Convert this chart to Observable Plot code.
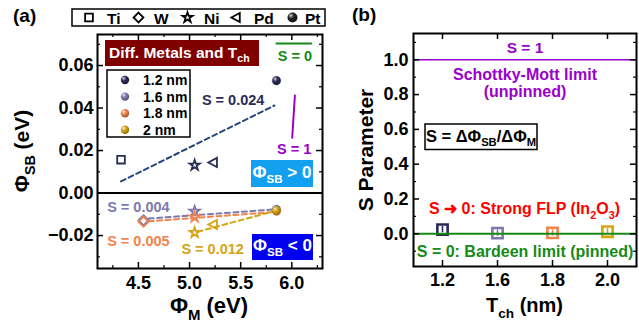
<!DOCTYPE html>
<html><head><meta charset="utf-8">
<script src="https://cdn.jsdelivr.net/npm/d3@7"></script>
<script src="https://cdn.jsdelivr.net/npm/@observablehq/plot@0.6"></script>
<style>
html,body{margin:0;padding:0;background:#fff;}
#wrap{position:relative;width:639px;height:324px;overflow:hidden;}
#wrap > svg{position:absolute;top:0;}
</style></head><body><div id="wrap"></div>
<script>
// ---------------- data ----------------
const metals = ["Ti", "W", "Ni", "Pd", "Pt"];
const workFunction = [4.33, 4.55, 5.05, 5.23, 5.85];          // Φ_M (eV)
const thickness = ["1.2 nm", "1.6 nm", "1.8 nm", "2 nm"];
const thicknessTicks = ["1.2", "1.6", "1.8", "2.0"];
const seriesColors = ["#2a2b57", "#7d79ad", "#f2844b", "#d5a414"];
const lineColors = ["#22497a", "#7d79ad", "#f2844b", "#d5a414"];
const phiSB_1p2 = [0.0157, null, 0.0131, 0.0144, 0.0529];
const phiSB_1p6 = [null, -0.0128, -0.0086, null, -0.0077];
const phiSB_1p8 = [null, -0.0135, -0.0113, null, -0.0085];
const phiSB_2p0 = [null, null, -0.0186, -0.0148, -0.0083];
const fitX_1p2 = [4.33, 5.83], fitY_1p2 = [0.0055, 0.0412];
const fitX_1p6 = [4.60, 5.83], fitY_1p6 = [-0.0120, -0.0077];
const fitX_1p8 = [4.60, 5.83], fitY_1p8 = [-0.0133, -0.0089];
const fitX_2p0 = [5.08, 5.83], fitY_2p0 = [-0.0182, -0.0085];
const sParameter = [0.024, 0.004, 0.005, 0.012];
const sLabels = ["S = 0.024", "S = 0.004", "S = 0.005", "S = 0.012"];
const refS0X = [5.85, 6.19], refS0Y = [0.0704, 0.0704];   // "S = 0" key line
const refS1X = [6.03, 6.004], refS1Y = [0.0459, 0.0260];  // "S = 1" key line
const xTicksA = [4.5, 5.0, 5.5, 6.0], xMinorA = [4.25, 4.75, 5.25, 5.75, 6.25];
const yTicksA = [-0.02, 0, 0.02, 0.04, 0.06], yMinorA = [-0.03, -0.01, 0.01, 0.03, 0.05, 0.07];
const yTicksB = [0, 0.2, 0.4, 0.6, 0.8, 1.0], yMinorB = [-0.1, 0.1, 0.3, 0.5, 0.7, 0.9, 1.1];

// ---------------- helpers ----------------
const FONT = '"Liberation Sans", Arial, Helvetica, sans-serif';
const PURPLE = "#9a00cc", GREEN = "#168a16", RED = "#ff0000";
const H = 324;
const triLeft = {draw(ctx, size) {
  const r = Math.sqrt(size / Math.PI);
  ctx.moveTo(-r * 1.05, 0); ctx.lineTo(r * 0.85, -r); ctx.lineTo(r * 0.85, r); ctx.closePath();
}};
const metalSymbol = {Ti: "square", W: "diamond2", Ni: "star", Pd: triLeft};
const metalR = {Ti: 4.3, W: 4.6, Ni: 3.2, Pd: 4.6};

function rich(svg, x, y, parts, o = {}) {
  const size = o.size || 16;
  const t = d3.select(svg).append("text")
    .attr("font-family", FONT).attr("font-weight", "bold").attr("font-size", size)
    .attr("fill", o.fill || "black").attr("text-anchor", o.anchor || "start")
    .attr("style", "white-space:pre");
  if (o.rotate) t.attr("transform", `translate(${x},${y}) rotate(${o.rotate})`);
  else t.attr("x", x).attr("y", y);
  let shift = 0;
  for (const p of parts) {
    const sub = Array.isArray(p);
    const txt = sub ? p[0] : p;
    const target = sub ? size * 0.3 : 0;
    const ts = t.append("tspan").text(txt).attr("dy", target - shift);
    if (sub) ts.attr("font-size", size * 0.68);
    shift = target;
  }
  return t;
}
function rect(svg, x0, y0, x1, y1, fill, stroke, sw) {
  return d3.select(svg).append("rect").attr("x", x0).attr("y", y0)
    .attr("width", x1 - x0).attr("height", y1 - y0)
    .attr("fill", fill).attr("stroke", stroke || "none").attr("stroke-width", sw || 0);
}
function addGradients(svg) {
  const defs = d3.select(svg).insert("defs", ":first-child");
  const list = seriesColors.map((c, i) => [`sph${i}`, c]).concat([["sphK", "#202020"]]);
  for (const [id, c] of list) {
    const g = defs.append("radialGradient").attr("id", id)
      .attr("cx", "40%").attr("cy", "38%").attr("r", "65%").attr("fx", "32%").attr("fy", "28%");
    g.append("stop").attr("offset", "0%").attr("stop-color", d3.interpolateRgb(c, "white")(0.8));
    g.append("stop").attr("offset", "45%").attr("stop-color", c);
    g.append("stop").attr("offset", "100%").attr("stop-color", d3.color(c).darker(1.3).formatHex());
  }
}

// ---------------- panel (a) ----------------
const phiSB = [phiSB_1p2, phiSB_1p6, phiSB_1p8, phiSB_2p0];
const fits = [[fitX_1p2, fitY_1p2], [fitX_1p6, fitY_1p6], [fitX_1p8, fitY_1p8], [fitX_2p0, fitY_2p0]];
const points = [];
phiSB.forEach((arr, s) => arr.forEach((v, m) => {
  if (v !== null) points.push({s, metal: metals[m], x: workFunction[m], y: v, color: seriesColors[s], ball: `url(#sph${s})`});
}));
const fitRows = fits.flatMap(([xs, ys], s) => xs.map((x, i) => ({s, x, y: ys[i], color: lineColors[s]})));
const refRows = [
  ...refS0X.map((x, i) => ({k: 0, x, y: refS0Y[i], color: GREEN})),
  ...refS1X.map((x, i) => ({k: 1, x, y: refS1Y[i], color: PURPLE}))
];
const labelRows = [
  {t: sLabels[0], x: 5.426, y: 0.0438, c: seriesColors[0]},
  {t: sLabels[1], x: 4.50, y: -0.0068, c: seriesColors[1]},
  {t: sLabels[2], x: 4.50, y: -0.0228, c: seriesColors[2]},
  {t: sLabels[3], x: 5.226, y: -0.0263, c: seriesColors[3]},
  {t: "S = 1", x: 6.022, y: 0.0206, c: PURPLE},
  {t: "S = 0", x: 6.03, y: 0.0641, c: GREEN}
];

const W1 = 330, mL1 = 97, mR1 = 8, mT1 = 34, mB1 = 56;
const fw1 = W1 - mL1 - mR1, fh1 = H - mT1 - mB1;
const fmtY = d => (d < 0 ? "\u2212" : "") + Math.abs(d).toFixed(2);

const left = Plot.plot({
  width: W1, height: H, marginLeft: mL1, marginRight: mR1, marginTop: mT1, marginBottom: mB1,
  style: {fontFamily: FONT, fontSize: "18px", fontWeight: "bold", background: "transparent", overflow: "visible"},
  x: {domain: [4.1, 6.3]},
  y: {domain: [-0.0355, 0.0746]},
  color: {type: "identity"},
  marks: [
    Plot.ruleY([0], {stroke: "black", strokeWidth: 2}),
    Plot.line(fitRows, {x: "x", y: "y", z: "s", stroke: "color", strokeWidth: 2, strokeDasharray: "5,3.5"}),
    Plot.line(refRows, {x: "x", y: "y", z: "k", stroke: "color", strokeWidth: 2}),
    ...Object.keys(metalSymbol).map(m => Plot.dot(points.filter(d => d.metal === m), {
      x: "x", y: "y", symbol: metalSymbol[m], r: metalR[m], stroke: "color", fill: "none", strokeWidth: 1.8
    })),
    Plot.dot(points.filter(d => d.metal === "Pt"), {x: "x", y: "y", r: 4.3, fill: "ball", stroke: "color", strokeWidth: 0.4}),
    Plot.text(labelRows, {x: "x", y: "y", text: "t", fill: "c", fontSize: 14.5, fontWeight: "bold"}),
    Plot.axisX({ticks: xTicksA, tickSize: 0, tickPadding: 8, tickFormat: d => d.toFixed(1), label: null, fontSize: 18, fontWeight: "bold"}),
    Plot.axisY({ticks: yTicksA, tickSize: 0, tickPadding: 4, tickFormat: fmtY, label: null, fontSize: 18, fontWeight: "bold"}),
    Plot.ruleX(xTicksA, {x: d => d, insetTop: fh1 - 6, strokeWidth: 1.5}),
    Plot.ruleX(xTicksA, {x: d => d, insetBottom: fh1 - 6, strokeWidth: 1.5}),
    Plot.ruleX(xMinorA, {x: d => d, insetTop: fh1 - 3, strokeWidth: 1.2}),
    Plot.ruleX(xMinorA, {x: d => d, insetBottom: fh1 - 3, strokeWidth: 1.2}),
    Plot.ruleY(yTicksA, {y: d => d, insetRight: fw1 - 6, strokeWidth: 1.5}),
    Plot.ruleY(yTicksA, {y: d => d, insetLeft: fw1 - 6, strokeWidth: 1.5}),
    Plot.ruleY(yMinorA, {y: d => d, insetRight: fw1 - 3, strokeWidth: 1.2}),
    Plot.ruleY(yMinorA, {y: d => d, insetLeft: fw1 - 3, strokeWidth: 1.2}),
    Plot.frame({stroke: "black", strokeWidth: 2})
  ]
});
left.style.left = "0px";
document.getElementById("wrap").appendChild(left);
addGradients(left);

// ---------------- panel (b) ----------------
const sRows = thicknessTicks.map((t, i) => ({t, s: sParameter[i], color: seriesColors[i]}));
const W2 = 309, mL2 = 83, mR2 = 3, mT2 = 33, mB2 = 58;
const fw2 = W2 - mL2 - mR2, fh2 = H - mT2 - mB2;
const right = Plot.plot({
  width: W2, height: H, marginLeft: mL2, marginRight: mR2, marginTop: mT2, marginBottom: mB2,
  style: {fontFamily: FONT, fontSize: "18px", fontWeight: "bold", background: "transparent", overflow: "visible"},
  x: {type: "point", domain: thicknessTicks, padding: 0.5},
  y: {domain: [-0.188, 1.151]},
  color: {type: "identity"},
  marks: [
    Plot.ruleY([1], {stroke: PURPLE, strokeWidth: 1.6}),
    Plot.dot(sRows, {x: "t", y: "s", symbol: "square", r: 5.8, stroke: "color", fill: "white", strokeWidth: 2.6}),
    Plot.ruleX(sRows, {x: "t", y1: d => d.s - 0.018, y2: d => d.s + 0.018, stroke: "color", strokeWidth: 1.6}),
    Plot.ruleY([0], {stroke: GREEN, strokeWidth: 2}),
    Plot.text(["S = 1"], {y: [1.065], text: d => d, fill: PURPLE, fontSize: 15.5, fontWeight: "bold"}),
    Plot.text(["Schottky-Mott limit"], {y: [0.916], text: d => d, fill: PURPLE, fontSize: 16, fontWeight: "bold"}),
    Plot.text(["(unpinned)"], {y: [0.814], text: d => d, fill: PURPLE, fontSize: 16, fontWeight: "bold"}),
    Plot.text(["S = 0: Bardeen limit (pinned)"], {y: [-0.104], text: d => d, fill: GREEN, fontSize: 16, fontWeight: "bold"}),
    Plot.axisX({ticks: thicknessTicks, tickSize: 0, tickPadding: 7, label: null, fontSize: 18, fontWeight: "bold"}),
    Plot.axisY({ticks: yTicksB, tickSize: 0, tickPadding: 5, tickFormat: d => d.toFixed(1), label: null, fontSize: 18, fontWeight: "bold"}),
    Plot.ruleX(thicknessTicks, {x: d => d, insetTop: fh2 - 6, strokeWidth: 1.5}),
    Plot.ruleX(thicknessTicks, {x: d => d, insetBottom: fh2 - 6, strokeWidth: 1.5}),
    Plot.ruleY(yTicksB, {y: d => d, insetRight: fw2 - 6, strokeWidth: 1.5}),
    Plot.ruleY(yTicksB, {y: d => d, insetLeft: fw2 - 6, strokeWidth: 1.5}),
    Plot.ruleY(yMinorB, {y: d => d, insetRight: fw2 - 3, strokeWidth: 1.2}),
    Plot.ruleY(yMinorB, {y: d => d, insetLeft: fw2 - 3, strokeWidth: 1.2}),
    Plot.frame({stroke: "black", strokeWidth: 2})
  ]
});
right.style.left = "330px";
document.getElementById("wrap").appendChild(right);

// ---------------- annotations (a) ----------------
rich(left, 13, 22, ["(a)"], {size: 19});
// top metal legend
rect(left, 72, 9, 325, 26, "white", "black", 1.5);
const legY = 17.5;
const legX = [89, 138.5, 187.5, 236, 292.5];
const legLabelX = [107, 154, 204, 254, 305];
const legSym = [[d3.symbolSquare, 60], [d3.symbolDiamond2, 62], [d3.symbolStar, 32], [triLeft, 62]];
metals.forEach((m, i) => {
  if (i < 4) {
    d3.select(left).append("path").attr("d", d3.symbol(legSym[i][0], legSym[i][1])())
      .attr("transform", `translate(${legX[i]},${legY})`)
      .attr("fill", "none").attr("stroke", "black").attr("stroke-width", 1.8);
  } else {
    d3.select(left).append("circle").attr("cx", legX[i]).attr("cy", legY).attr("r", 5).attr("fill", "url(#sphK)");
  }
  rich(left, legLabelX[i], 23.5, [m], {size: 15.5});
});
// title box
rect(left, 105, 40, 259, 66, "#800000");
rich(left, 109, 57.5, ["Diff. Metals and T", ["ch"]], {size: 15.5, fill: "white"});
// thickness legend
rect(left, 107, 70, 190, 137, "white", "black", 1.5);
thickness.forEach((t, i) => {
  const cy = 80 + i * 16.6;
  d3.select(left).append("circle").attr("cx", 125).attr("cy", cy).attr("r", 4.2).attr("fill", `url(#sph${i})`);
  rich(left, 143, cy + 5, [t], {size: 14});
});
// sign boxes
rect(left, 251, 160, 313, 187, "#14a0f0");
rich(left, 282, 177.5, ["\u03A6", ["SB"], " > 0"], {size: 17, fill: "white", anchor: "middle"});
rect(left, 252, 234, 313, 260, "#0000f0");
rich(left, 282.5, 251, ["\u03A6", ["SB"], " < 0"], {size: 17, fill: "white", anchor: "middle"});
// axis titles
rich(left, 209, 313, ["\u03A6", ["M"], " (eV)"], {size: 22, anchor: "middle"});
rich(left, 29, 151, ["\u03A6", ["SB"], " (eV)"], {size: 21, anchor: "middle", rotate: -90});

// ---------------- annotations (b) ----------------
rich(right, 22, 21, ["(b)"], {size: 19});
rect(right, 95, 124, 207, 149.5, "white", "black", 1.5);
rich(right, 151, 141.5, ["S = \u0394\u03A6", ["SB"], "/\u0394\u03A6", ["M"]], {size: 16.5, anchor: "middle"});
rich(right, mL2 + fw2 / 2, 214, ["S \u279C 0: Strong FLP (In", ["2"], "O", ["3"], ")"], {size: 16, fill: RED, anchor: "middle"});
rich(right, mL2 + fw2 / 2, 311.5, ["T", ["ch"], " (nm)"], {size: 20, anchor: "middle"});
rich(right, 43, 150, ["S Parameter"], {size: 21, anchor: "middle", rotate: -90});
</script></body></html>
